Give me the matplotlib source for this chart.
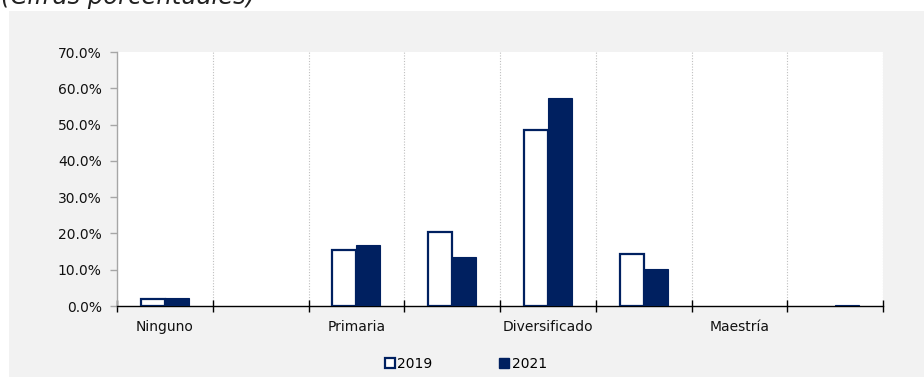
import matplotlib
matplotlib.use("Agg")
import matplotlib.pyplot as plt
from matplotlib.patches import Rectangle, Patch
import numpy as np

plt.rcParams['font.family'] = ['DejaVu Sans']

categories = ["Ninguno", "Preprimaria", "Primaria", "Básico", "Diversificado",
              "Universitario", "Maestría", "Doctorado"]
shown_labels = ["Ninguno", "", "Primaria", "", "Diversificado", "", "Maestría", ""]
years = ["2019", "2021"]
values_2019 = [1.8, 0.0, 15.5, 20.3, 48.5, 14.3, 0.0, 0.0]
values_2021 = [2.3, 0.0, 16.8, 13.6, 57.4, 10.3, 0.0, 0.3]
y_ticks = [0, 10, 20, 30, 40, 50, 60, 70]

navy = "#002060"
panel_gray = "#f2f2f2"
txt = "#111111"
fs = 10

W, H = 924, 377
fig = plt.figure(figsize=(W / 100, H / 100), dpi=100)
fig.patch.set_facecolor("white")

# grey backdrop behind the chart
fig.add_artist(Rectangle((9 / W, 0), 1, 1 - 11 / H, transform=fig.transFigure,
                         facecolor=panel_gray, edgecolor="none", zorder=-10))

fig.text(1 / W, 1 - 4 / H, "(Cifras porcentuales)", fontsize=17.5, style="italic",
         color="#222222", ha="left", va="baseline")

ax = fig.add_axes([117 / W, 1 - 306 / H, 766 / W, 254 / H])
ax.set_facecolor("white")

x = np.arange(len(categories))
w = 0.25
v19 = np.array(values_2019)
v21 = np.array(values_2021)
m19 = v19 > 0
m21 = v21 > 0
ax.bar(x[m19] - w / 2, v19[m19], width=w, facecolor="white", edgecolor=navy,
       linewidth=1.6, zorder=3, label=years[0])
ax.bar(x[m21] + w / 2, v21[m21], width=w, facecolor=navy, edgecolor=navy,
       linewidth=0.8, zorder=3, label=years[1])

ax.set_xlim(-0.5, len(categories) - 0.5)
ax.set_ylim(0, 70)

# vertical dotted separators between categories
for b in np.arange(0.5, len(categories), 1.0):
    ax.axvline(b, color="#bfbfbf", linestyle=(0, (1, 1.5)), linewidth=0.8, zorder=1)

ax.set_xticks(x)
ax.set_xticklabels(shown_labels, fontsize=fs, color=txt)
ax.set_xticks(np.arange(-0.5, len(categories), 1.0), minor=True)
ax.tick_params(axis="x", which="major", length=0, pad=10)
ax.tick_params(axis="x", which="minor", direction="inout", length=8, width=1, color="black")

ax.set_yticks(y_ticks)
ax.set_yticklabels([f"{v:.1f}%" for v in y_ticks], fontsize=fs, color=txt)
ax.tick_params(axis="y", direction="out", length=5, width=1, color="#a6a6a6", pad=6)

for s in ["top", "right"]:
    ax.spines[s].set_visible(False)
ax.spines["left"].set_color("#a6a6a6")
ax.spines["left"].set_linewidth(1)
ax.spines["bottom"].set_color("black")
ax.spines["bottom"].set_linewidth(1)

handles = [Patch(facecolor="white", edgecolor=navy, linewidth=1.6, label=years[0]),
           Patch(facecolor=navy, edgecolor=navy, label=years[1])]
fig.legend(handles=handles, loc="center", bbox_to_anchor=(466 / W, 1 - 364 / H),
           ncol=2, frameon=False, fontsize=fs, handlelength=0.7, handleheight=0.7,
           handletextpad=0.2, columnspacing=4.8, borderpad=0)

fig.savefig("out.png", dpi=100, facecolor=fig.get_facecolor())
